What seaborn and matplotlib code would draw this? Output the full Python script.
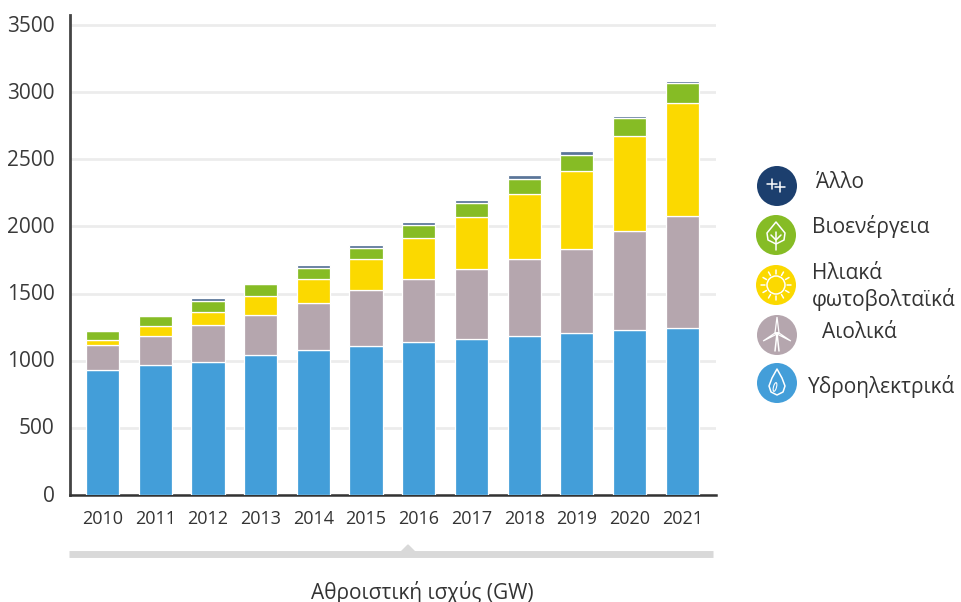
import numpy as np
import matplotlib
matplotlib.use("Agg")
import matplotlib.pyplot as plt
from matplotlib.patches import Circle, Polygon, Ellipse
from matplotlib.transforms import ScaledTranslation
import seaborn as sns

# --------- dados
years = ['2010', '2011', '2012', '2013', '2014', '2015', '2016', '2017', '2018', '2019', '2020', '2021']
hydro = [930, 965, 990, 1040, 1080, 1110, 1140, 1165, 1185, 1205, 1225, 1240]
wind = [185, 217, 273, 300, 350, 420, 470, 515, 570, 625, 738, 835]
solar = [40, 73, 97, 140, 175, 225, 300, 390, 485, 585, 707, 845]
bio = [65, 75, 82, 90, 85, 85, 100, 105, 115, 120, 135, 145]
other = [5, 5, 23, 5, 20, 25, 25, 25, 25, 25, 20, 20]

series = [hydro, wind, solar, bio, other]
colors = ['#439ed9', '#b5a6ae', '#fbd900', '#86bc25', '#5a7599']

legend_labels = ['Άλλο', 'Βιοενέργεια', 'Ηλιακά\nφωτοβολταϊκά', 'Αιολικά', 'Υδροηλεκτρικά']
yticks = [0, 500, 1000, 1500, 2000, 2500, 3000, 3500]

sns.set_theme(style="white")
plt.rcParams['font.family'] = ['Open Sans', 'DejaVu Sans']

W, H = 961, 602
fig = plt.figure(figsize=(W / 100, H / 100), dpi=100)
ax = fig.add_axes([70 / W, 1 - 495 / H, 646 / W, 480 / H])

# --------- barras empilhadas
bottom = np.zeros(len(years))
for values, color in zip(series, colors):
    sns.barplot(x=years, y=values, bottom=bottom, color=color, saturation=1, width=0.63,
                edgecolor='white', linewidth=0.9, ax=ax, zorder=3)
    bottom = bottom + np.array(values)

ax.set_xlim(-0.617, 11.64)
ax.set_ylim(0, 3574)
ax.set_yticks(yticks)
ax.set_yticklabels([str(t) for t in yticks], fontsize=15, color='#3a3a3a')
ax.tick_params(axis='x', labelsize=13, labelcolor='#333333', pad=11, length=0)
ax.tick_params(axis='y', pad=11, length=0)
ax.yaxis.grid(True, color='#ececec', linewidth=2)
ax.set_axisbelow(True)

# rótulos do eixo y um pouco acima da grade, como no original
shift = ScaledTranslation(0, 1 / 72, fig.dpi_scale_trans)
for label in ax.get_yticklabels():
    label.set_transform(label.get_transform() + shift)

for side in ['top', 'right']:
    ax.spines[side].set_visible(False)
ax.spines['left'].set_color('#444444')
ax.spines['left'].set_linewidth(2)
ax.spines['bottom'].set_color('#333333')
ax.spines['bottom'].set_linewidth(1.8)

# --------- camada em pixels para a legenda e a barra inferior
over = fig.add_axes([0, 0, 1, 1])
over.set_xlim(0, W)
over.set_ylim(H, 0)
over.axis('off')
over.patch.set_alpha(0)

over.plot([69, 713], [554, 554], color='#d9d9d9', linewidth=5, solid_capstyle='butt')
over.add_patch(Polygon([[401, 552], [408, 545], [415, 552]], color='#d9d9d9'))
over.text(422, 592, 'Αθροιστική ισχύς (GW)', ha='center', va='center', fontsize=15, color='#333333')

# --------- ícones da legenda
icon_xy = [(777, 186), (776, 235), (776, 285), (777, 335), (777, 383)]
icon_colors = ['#1c3f6e', '#86bc25', '#fbd900', '#b5a6ae', '#439ed9']
for (cx, cy), c in zip(icon_xy, icon_colors):
    over.add_patch(Circle((cx, cy), 20, color=c, ec='none'))

lw = 1.1
# outro
cx, cy = icon_xy[0]
for dx, dy in [(-5, -2), (3, 1)]:
    over.plot([cx + dx - 5, cx + dx + 5], [cy + dy, cy + dy], color='white', lw=lw)
    over.plot([cx + dx, cx + dx], [cy + dy - 5, cy + dy + 5], color='white', lw=lw)
# folha
cx, cy = icon_xy[1]
over.add_patch(Polygon([[cx, cy - 13], [cx + 9, cy - 2], [cx + 8, cy + 5], [cx, cy + 9],
                        [cx - 8, cy + 5], [cx - 9, cy - 2]], fill=False, ec='white', lw=lw, joinstyle='round'))
over.plot([cx, cx], [cy - 3, cy + 15], color='white', lw=lw)
over.plot([cx - 5, cx, cx + 5], [cy, cy + 5, cy], color='white', lw=lw)
# sol
cx, cy = icon_xy[2]
over.add_patch(Circle((cx, cy), 9, color='white', fill=False, lw=lw))
for a in np.arange(0, 360, 30):
    r = np.deg2rad(a)
    over.plot([cx + 11 * np.cos(r), cx + 15 * np.cos(r)], [cy + 11 * np.sin(r), cy + 15 * np.sin(r)], color='white', lw=lw)
# turbina
cx, cy = icon_xy[3]
over.plot([cx - 2, cx, cx + 2], [cy + 16, cy - 2, cy + 16], color='white', lw=lw)
for a in [-90, 30, 150]:
    r = np.deg2rad(a)
    tip = [cx + 16 * np.cos(r), cy - 2 + 16 * np.sin(r)]
    over.add_patch(Polygon([[cx - 2, cy - 2], tip, [cx + 2, cy - 2]], fill=False, ec='white', lw=lw * 0.8))
# gota
cx, cy = icon_xy[4]
over.add_patch(Polygon([[cx, cy - 14], [cx + 5, cy - 5], [cx + 8, cy + 3], [cx + 6, cy + 9], [cx, cy + 12],
                        [cx - 6, cy + 9], [cx - 8, cy + 3], [cx - 5, cy - 5]], fill=False, ec='white', lw=lw, joinstyle='round'))
over.add_patch(Ellipse((cx - 2, cy + 4), 3, 9, angle=15, fill=False, ec='white', lw=lw * 0.7))

# --------- textos da legenda
text_xy = [(816, 182), (812, 227), (812, 287), (822, 333), (808, 387)]
for (tx, ty), label in zip(text_xy, legend_labels):
    over.text(tx, ty, label, ha='left', va='center', fontsize=15, color='#333333', linespacing=1.25)

fig.savefig('out.png', dpi=100)
